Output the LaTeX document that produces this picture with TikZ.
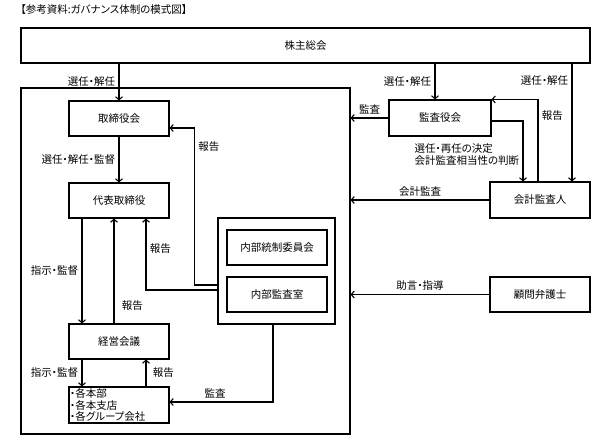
\documentclass[tikz,border=0pt]{standalone}
\usepackage{fontspec}
\setmainfont[RawFeature=+palt]{Noto Sans CJK JP}
\usetikzlibrary{arrows.meta}

\begin{document}
\begin{tikzpicture}[x=1pt,y=-1pt,line width=1.1pt,
    font=\fontsize{10.5}{12.5}\selectfont,
    box/.style={draw,minimum width=100pt,minimum height=35pt,inner sep=0pt},
    >={Straight Barb[length=3pt,width=7pt]}]
  \useasboundingbox (0,0) rectangle (612,447);
  \node[anchor=west,inner sep=0pt] (title) at (20,10) {【参考資料:ガバナンス体制の模式図】};
% the boxes
  \node[box,minimum width=569pt] (soukai) at (305.5,45.5) {株主総会};
  \node[draw,minimum width=329pt,minimum height=346pt] (kaisha) at (185.5,261) {};
  \node[box] (torishimari) at (119,118.5) {取締役会};
  \node[box] (daihyo) at (119,200.5) {代表取締役};
  \node[box] (keiei) at (119,341.5) {経営会議};
  \node[box,minimum height=36pt,align=left,text width=98pt,inner sep=1pt,
    font=\fontsize{10.5}{11.5}\selectfont] (kakubu) at (119,405)
    {・各本部\\・各本支店\\・各グループ会社};
  \node[draw,minimum width=117pt,minimum height=106pt] (naibu) at (276.5,271) {};
  \node[box] (tousei) at (277,247.5) {内部統制委員会};
  \node[box] (kansashitsu) at (277,294.5) {内部監査室};
  \node[box,minimum width=102pt,minimum height=36pt] (kansayaku) at (440,118) {監査役会};
  \node[box,minimum height=36pt] (kaikei) at (540,200) {会計監査人};
  \node[box] (komon) at (540,294.5) {顧問弁護士};
% left side arrows
  \draw[->] (torishimari.north |- soukai.south) -- node[midway,left] (l1) {選任・解任} (torishimari.north);
  \draw[->] (torishimari.south) -- node[midway,left] (l2) {選任・解任・監督} (daihyo.north);
  \draw[->] ([xshift=-37pt]daihyo.south) -- node[midway,left] (l3) {指示・監督} ([xshift=-37pt]keiei.north);
  \draw[->] ([xshift=-5pt]keiei.north) -- node[pos=0.17,right,xshift=4pt] (l4) {報告} ([xshift=-5pt]daihyo.south);
  \draw[->] ([yshift=-19pt]naibu.west) -| node[pos=0.79,right] (l5) {報告} ([xshift=27pt]daihyo.south);
  \draw[->] ([yshift=-14pt]naibu.west) -- ++(-23,0) |- node[pos=0.44,right] (l6) {報告} ([yshift=-9.5pt]torishimari.east);
  \draw[->] ([xshift=-37pt]keiei.south) -- node[midway,left] (l7) {指示・監督} ([xshift=-37pt]kakubu.north);
  \draw[->] ([xshift=27pt]kakubu.north) -- node[midway,right,xshift=3pt] (l8) {報告} ([xshift=27pt]keiei.south);
  \draw[->] ([xshift=-3.5pt]naibu.south) |- node[pos=0.78,above] (l9) {監査} ([yshift=3pt]kakubu.east);
% right side arrows
  \draw[->] ([xshift=-5pt]kansayaku.north |- soukai.south) -- node[midway,left] (r1) {選任・解任} ([xshift=-5pt]kansayaku.north);
  \draw[->] (kansayaku.west) -- node[midway,above] (r2) {監査} (kansayaku.west -| kaisha.east);
  \draw[->] ([yshift=-3pt]kansayaku.east) -| ([xshift=-17pt]kaikei.north);
  \draw[->] ([xshift=-2pt]kaikei.north) |- node[pos=0.4,right] (r3) {報告} (kansayaku.north east);
  \draw[->] ([xshift=32pt]kaikei.north |- soukai.south) -- node[pos=0.14,left] (r4) {選任・解任} ([xshift=32pt]kaikei.north);
  \draw[->] (kaikei.west) -- node[midway,above] (r5) {会計監査} (kaikei.west -| kaisha.east);
  \draw[->] (komon.west) -- node[midway,above] (r6) {助言・指導} (komon.west -| kaisha.east);
  \node[anchor=north west,align=left,inner sep=0pt] (note) at (414,143) {選任・再任の決定\\会計監査相当性の判断};
\end{tikzpicture}
\end{document}
